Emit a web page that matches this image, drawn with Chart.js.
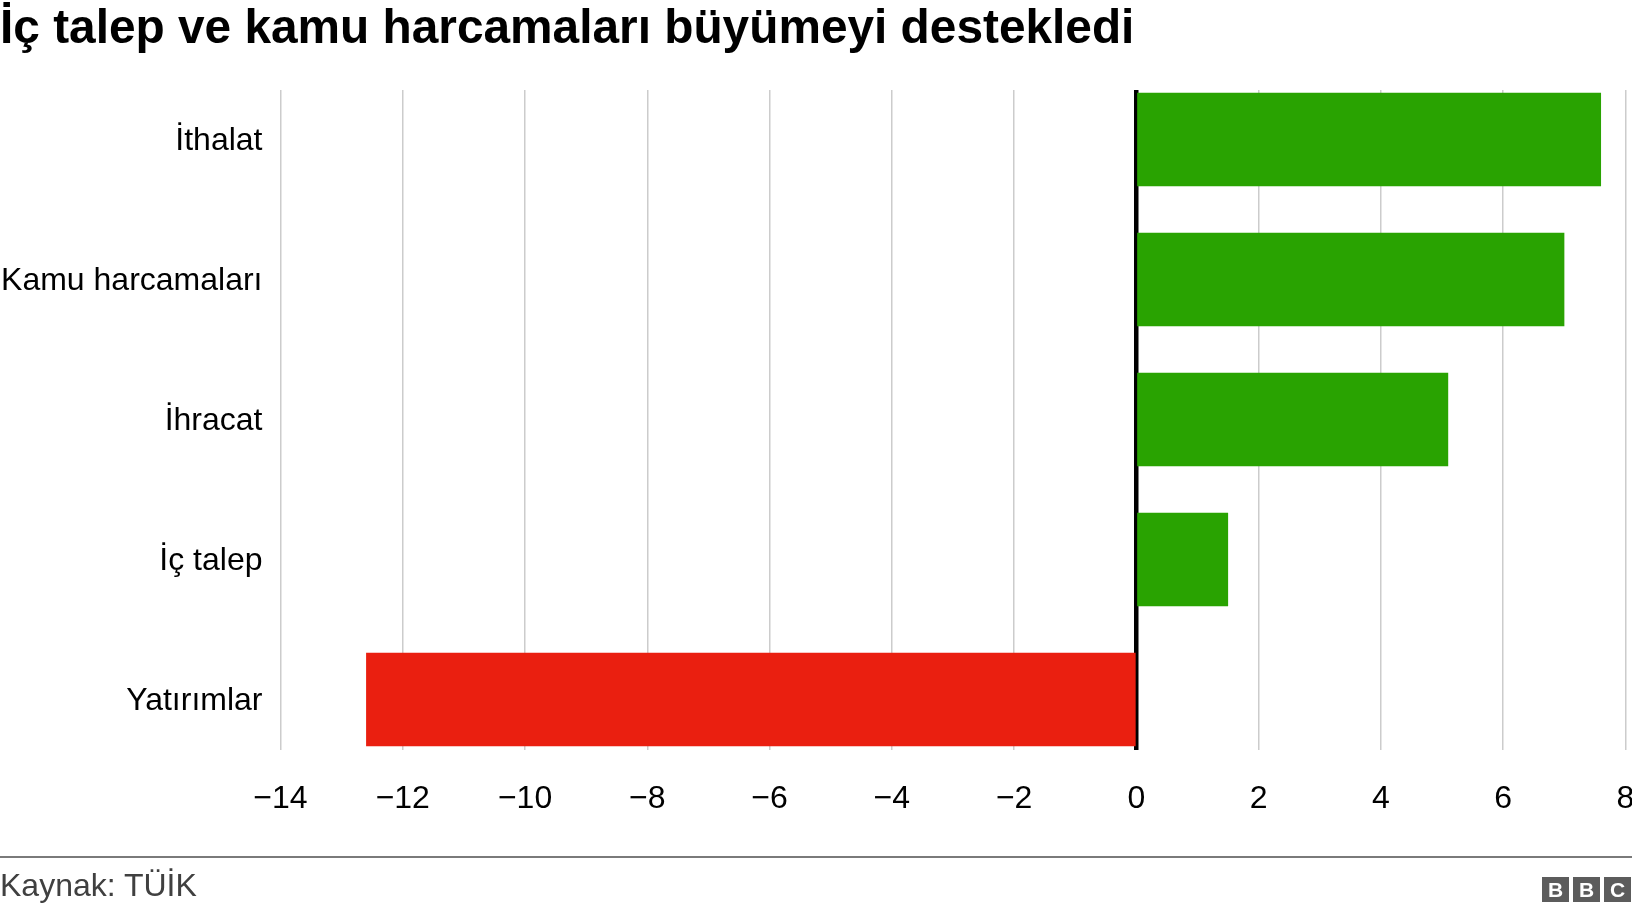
<!DOCTYPE html>
<html lang="tr">
<head>
<meta charset="utf-8">
<title>İç talep ve kamu harcamaları büyümeyi destekledi</title>
<script src="https://cdn.jsdelivr.net/npm/chart.js@4/dist/chart.umd.min.js"></script>
<style>
  html, body { margin: 0; padding: 0; background: #fff; }
  #wrap { position: relative; width: 1632px; height: 912px; overflow: hidden; }
  #chart { position: absolute; left: 0; top: 0; }
  #rule { position: absolute; left: 0; top: 856px; width: 1632px; height: 2px; background: #7a7a7a; }
  #source { position: absolute; left: 0; top: 869px; font: 32px/32px 'Liberation Sans', Arial, sans-serif; color: #404040; white-space: nowrap; }
  #logo { position: absolute; left: 1542px; top: 877px; display: flex; gap: 4px; }
  #logo span { display: block; width: 27px; height: 25px; background: #5c5c5c; color: #fff;
               font: bold 21px/25px 'Liberation Sans', Arial, sans-serif; text-align: center; }
</style>
</head>
<body>
<div id="wrap">
  <canvas id="chart" width="1632" height="912"></canvas>
  <div id="rule"></div>
  <div id="source">Kaynak: TÜİK</div>
  <div id="logo"><span>B</span><span>B</span><span>C</span></div>
</div>
<script>
// Contribution to growth by expenditure component (percentage points)
const categories = ['İthalat', 'Kamu harcamaları', 'İhracat', 'İç talep', 'Yatırımlar'];
const values = [7.6, 7.0, 5.1, 1.5, -12.6];
const xTicks = [-14, -12, -10, -8, -6, -4, -2, 0, 2, 4, 6, 8];

const GREEN = '#29a301';
const RED = '#ea1f10';
const FONT = "'Liberation Sans', Arial, sans-serif";

const minusSign = v => (v < 0 ? '\u2212' + Math.abs(v) : String(v));

new Chart(document.getElementById('chart'), {
  type: 'bar',
  data: {
    datasets: [{
      data: values.map((v, i) => ({ x: v, y: i })),
      backgroundColor: ctx => (ctx.raw && ctx.raw.x < 0 ? RED : GREEN),
      borderWidth: 0,
      barPercentage: 0.668,
      categoryPercentage: 1
    }]
  },
  options: {
    indexAxis: 'y',
    responsive: false,
    animation: false,
    layout: { padding: { left: 0, right: 0, top: 0, bottom: 0 } },
    plugins: {
      legend: { display: false },
      tooltip: { enabled: false },
      title: {
        display: true,
        text: 'İç talep ve kamu harcamaları büyümeyi destekledi',
        align: 'start',
        color: '#000',
        font: { family: FONT, size: 47.8, weight: 'bold', lineHeight: 1.2 },
        padding: { top: 1, bottom: 31.6 }
      }
    },
    scales: {
      x: {
        type: 'linear',
        position: 'bottom',
        min: xTicks[0],
        max: xTicks[xTicks.length - 1],
        afterBuildTicks: s => { s.ticks = xTicks.map(v => ({ value: v })); },
        afterFit: s => { s.height = 162; s.paddingRight = 6.5; },
        grid: { color: '#cccccc', lineWidth: 1.5, drawTicks: false },
        border: { display: false },
        ticks: {
          color: '#000',
          padding: 30,
          maxRotation: 0,
          font: { family: FONT, size: 32 },
          callback: v => minusSign(v)
        }
      },
      // zero baseline, drawn above the bars
      zero: {
        type: 'linear',
        axis: 'x',
        position: 'top',
        z: 1,
        min: xTicks[0],
        max: xTicks[xTicks.length - 1],
        afterBuildTicks: s => { s.ticks = [{ value: 0 }]; },
        grid: { color: '#000', lineWidth: 4.5, drawTicks: false },
        border: { display: false },
        ticks: { display: false }
      },
      y: {
        type: 'linear',
        reverse: true,
        offset: false,
        min: -0.354,
        max: 4.36,
        afterBuildTicks: s => { s.ticks = categories.map((_, i) => ({ value: i })); },
        afterFit: s => { s.width = 280.5; },
        grid: { display: false, drawTicks: false },
        border: { display: false },
        ticks: {
          color: '#000',
          padding: 18,
          labelOffset: 2,
          font: { family: FONT, size: 32 },
          callback: v => categories[v]
        }
      }
    }
  }
});
</script>
</body>
</html>
